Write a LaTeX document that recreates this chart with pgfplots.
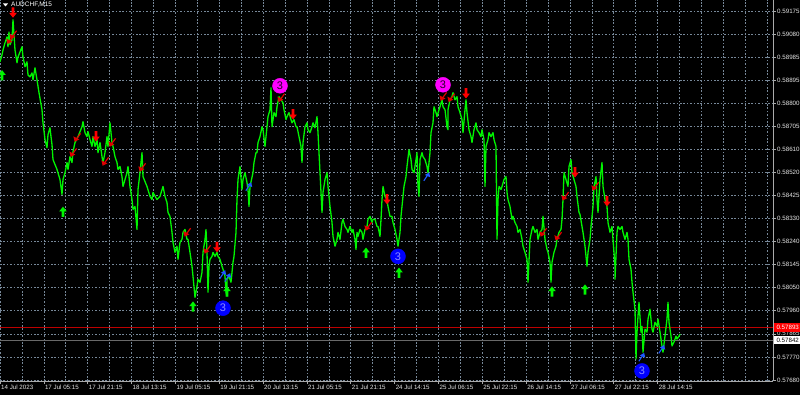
\documentclass[border=0pt]{standalone}
\usepackage{fontspec}
\setmainfont{Liberation Sans}
\usepackage{pgfplots}
\pgfplotsset{compat=1.18}
\usepackage{pgfplotstable}
\definecolor{lime}{RGB}{0,245,0}
\definecolor{gridc}{RGB}{119,136,153}
\definecolor{framec}{RGB}{170,170,170}
\definecolor{mtred}{RGB}{255,0,0}
\definecolor{dred}{RGB}{225,0,0}
\definecolor{askred}{RGB}{190,0,0}
\definecolor{bidgray}{RGB}{105,105,105}
\definecolor{mtblue}{RGB}{0,0,255}
\definecolor{arrblue}{RGB}{30,90,255}
\definecolor{mag}{RGB}{255,0,255}

\pgfdeclareplotmark{dnarrow}{%
  \pgfpathmoveto{\pgfpoint{-1.3pt}{5.5pt}}%
  \pgfpathlineto{\pgfpoint{1.3pt}{5.5pt}}%
  \pgfpathlineto{\pgfpoint{1.3pt}{0pt}}%
  \pgfpathlineto{\pgfpoint{3.8pt}{0pt}}%
  \pgfpathlineto{\pgfpoint{0pt}{-4.8pt}}%
  \pgfpathlineto{\pgfpoint{-3.8pt}{0pt}}%
  \pgfpathlineto{\pgfpoint{-1.3pt}{0pt}}%
  \pgfpathclose\pgfusepathqfill}
\pgfdeclareplotmark{uparrow}{%
  \pgfpathmoveto{\pgfpoint{-1.3pt}{-5.5pt}}%
  \pgfpathlineto{\pgfpoint{1.3pt}{-5.5pt}}%
  \pgfpathlineto{\pgfpoint{1.3pt}{0pt}}%
  \pgfpathlineto{\pgfpoint{3.8pt}{0pt}}%
  \pgfpathlineto{\pgfpoint{0pt}{4.8pt}}%
  \pgfpathlineto{\pgfpoint{-3.8pt}{0pt}}%
  \pgfpathlineto{\pgfpoint{-1.3pt}{0pt}}%
  \pgfpathclose\pgfusepathqfill}
\pgfdeclareplotmark{smalldn}{%
  \pgfsetlinewidth{1.2pt}%
  \pgfpathmoveto{\pgfpoint{3.6pt}{4.2pt}}\pgfpathlineto{\pgfpoint{-0.8pt}{-1.8pt}}\pgfusepathqstroke
  \pgfpathmoveto{\pgfpoint{-2.4pt}{-4.2pt}}\pgfpathlineto{\pgfpoint{2.4pt}{-1.8pt}}\pgfpathlineto{\pgfpoint{-3.6pt}{1.2pt}}\pgfpathclose\pgfusepathqfill}
\pgfdeclareplotmark{smallup}{%
  \pgfsetlinewidth{1.1pt}%
  \pgfpathmoveto{\pgfpoint{-3.2pt}{-4.2pt}}\pgfpathlineto{\pgfpoint{0.8pt}{1.8pt}}\pgfusepathqstroke
  \pgfpathmoveto{\pgfpoint{2.2pt}{4.2pt}}\pgfpathlineto{\pgfpoint{-2.2pt}{1.6pt}}\pgfpathlineto{\pgfpoint{3.2pt}{-0.6pt}}\pgfpathclose\pgfusepathqfill}

\pgfplotstableread{
x price
0 0.58969
2 0.58997
3 0.59017
5 0.59046
7 0.59070
8 0.59030
9 0.59090
10 0.59038
12 0.59058
13 0.59139
14 0.59078
15 0.59017
17 0.58965
18 0.58989
20 0.59009
22 0.59030
23 0.58989
25 0.58949
27 0.58969
28 0.58916
30 0.58908
32 0.58924
33 0.58896
35 0.58945
37 0.58896
39 0.58844
42 0.58775
43 0.58722
45 0.58654
47 0.58621
48 0.58674
50 0.58702
51 0.58666
52 0.58634
53 0.58573
57 0.58533
60 0.58492
62 0.58432
63 0.58492
65 0.58520
67 0.58561
68 0.58533
70 0.58585
72 0.58561
73 0.58605
75 0.58642
78 0.58666
82 0.58706
83 0.58727
85 0.58682
87 0.58666
88 0.58686
90 0.58654
92 0.58626
93 0.58666
95 0.58626
97 0.58654
98 0.58601
100 0.58642
102 0.58585
103 0.58561
105 0.58601
107 0.58666
108 0.58626
110 0.58722
112 0.58642
113 0.58626
115 0.58585
117 0.58561
118 0.58533
120 0.58545
122 0.58504
123 0.58464
125 0.58492
127 0.58520
128 0.58545
130 0.58464
132 0.58411
133 0.58371
135 0.58383
137 0.58290
138 0.58452
140 0.58520
142 0.58601
143 0.58504
147 0.58464
150 0.58424
152 0.58411
153 0.58440
157 0.58411
160 0.58424
163 0.58464
165 0.58424
167 0.58399
168 0.58359
170 0.58343
172 0.58278
173 0.58238
175 0.58197
177 0.58222
178 0.58169
180 0.58238
182 0.58250
183 0.58278
185 0.58290
187 0.58250
188 0.58250
190 0.58197
192 0.58141
193 0.58100
195 0.58015
197 0.58060
198 0.58088
200 0.58076
202 0.58116
203 0.58197
205 0.58250
206 0.58290
207 0.58197
208 0.58036
209 0.58141
210 0.58169
212 0.58181
213 0.58197
215 0.58181
217 0.58197
218 0.58181
220 0.58169
222 0.58141
223 0.58129
225 0.58100
226 0.58036
227 0.58020
227 0.58088
229 0.58100
231 0.58076
233 0.58157
234 0.58181
236 0.58278
237 0.58411
238 0.58492
240 0.58545
242 0.58452
243 0.58492
245 0.58520
247 0.58480
248 0.58452
249 0.58383
250 0.58464
253 0.58520
254 0.58561
256 0.58601
257 0.58601
258 0.58642
260 0.58666
262 0.58706
263 0.58694
265 0.58626
267 0.58706
268 0.58747
270 0.58775
271 0.58864
272 0.58706
274 0.58763
276 0.58747
277 0.58787
279 0.58828
281 0.58815
283 0.58803
284 0.58775
286 0.58735
287 0.58747
289 0.58763
291 0.58735
292 0.58722
294 0.58735
296 0.58706
297 0.58706
299 0.58666
301 0.58626
302 0.58561
303 0.58642
305 0.58706
307 0.58722
308 0.58694
310 0.58682
312 0.58706
313 0.58722
315 0.58702
317 0.58747
318 0.58682
319 0.58601
321 0.58440
322 0.58359
323 0.58440
325 0.58492
327 0.58520
328 0.58464
330 0.58383
332 0.58318
333 0.58262
335 0.58222
337 0.58250
338 0.58278
340 0.58250
342 0.58318
343 0.58331
345 0.58302
347 0.58290
348 0.58278
350 0.58302
352 0.58278
353 0.58290
355 0.58250
356 0.58209
357 0.58278
358 0.58262
360 0.58290
362 0.58278
363 0.58250
365 0.58290
367 0.58302
368 0.58331
370 0.58343
372 0.58318
373 0.58331
375 0.58331
377 0.58302
378 0.58302
380 0.58262
381 0.58331
382 0.58411
383 0.58464
385 0.58424
387 0.58411
388 0.58383
390 0.58343
392 0.58343
393 0.58318
395 0.58290
397 0.58250
398 0.58222
400 0.58278
401 0.58343
403 0.58424
404 0.58464
406 0.58504
407 0.58545
409 0.58613
411 0.58573
412 0.58533
414 0.58520
416 0.58573
417 0.58601
418 0.58464
419 0.58424
420 0.58573
422 0.58601
423 0.58585
425 0.58573
427 0.58545
428 0.58520
430 0.58601
431 0.58682
433 0.58722
434 0.58787
436 0.58763
437 0.58747
439 0.58775
440 0.58787
442 0.58815
443 0.58787
445 0.58775
447 0.58706
448 0.58694
448 0.58775
450 0.58815
452 0.58828
453 0.58844
455 0.58815
457 0.58828
458 0.58787
460 0.58763
462 0.58735
463 0.58682
465 0.58775
466 0.58815
467 0.58763
469 0.58694
471 0.58666
472 0.58642
474 0.58694
476 0.58722
477 0.58694
479 0.58682
481 0.58666
482 0.58694
484 0.58654
485 0.58464
486 0.58626
488 0.58654
489 0.58682
491 0.58666
493 0.58682
494 0.58654
496 0.58626
497 0.58250
498 0.58411
499 0.58464
501 0.58452
502 0.58464
504 0.58492
506 0.58504
507 0.58440
508 0.58411
510 0.58383
512 0.58331
513 0.58343
515 0.58318
517 0.58302
518 0.58278
520 0.58290
522 0.58250
523 0.58222
525 0.58197
527 0.58169
528 0.58076
530 0.58250
532 0.58290
533 0.58302
535 0.58278
537 0.58290
538 0.58250
540 0.58278
542 0.58290
543 0.58343
545 0.58250
547 0.58209
548 0.58197
550 0.58157
551 0.58076
552 0.58157
554 0.58197
556 0.58222
557 0.58250
559 0.58278
561 0.58290
562 0.58331
563 0.58411
564 0.58520
566 0.58492
568 0.58464
569 0.58545
571 0.58573
572 0.58520
574 0.58492
576 0.58464
577 0.58424
579 0.58359
580 0.58351
582 0.58302
583 0.58278
585 0.58222
587 0.58141
588 0.58197
590 0.58250
591 0.58302
593 0.58383
594 0.58464
596 0.58504
597 0.58411
598 0.58359
600 0.58492
602 0.58561
603 0.58464
605 0.58411
607 0.58383
608 0.58318
610 0.58278
612 0.58302
613 0.58250
615 0.58141
615 0.58088
617 0.58278
618 0.58302
620 0.58290
622 0.58302
623 0.58278
625 0.58250
627 0.58278
628 0.58250
629 0.58169
631 0.58129
632 0.58076
633 0.58036
635 0.57967
636 0.57765
637 0.57874
638 0.57939
639 0.57995
641 0.57874
642 0.57898
643 0.57793
645 0.57886
647 0.57874
648 0.57927
650 0.57967
652 0.57886
653 0.57874
655 0.57914
657 0.57898
658 0.57927
660 0.57874
662 0.57818
663 0.57793
665 0.57858
667 0.57927
668 0.57995
669 0.57914
671 0.57858
672 0.57818
674 0.57834
676 0.57858
677 0.57846
679 0.57858
680 0.57866
}\pricetable

\pgfplotstableread{
x price
13 0.59167
96 0.58666
217 0.58217
293 0.58755
387 0.58411
466 0.58840
575 0.58520
607 0.58403
}\reddown

\pgfplotstableread{
x price
10 0.59058
13 0.59078
77 0.58662
73 0.58601
105 0.58565
112 0.58642
142 0.58541
187 0.58278
207 0.58209
281 0.58823
368 0.58302
443 0.58828
451 0.58823
543 0.58278
558 0.58262
565 0.58424
595 0.58464
}\redsmall

\pgfplotstableread{
x price
2 0.58916
63 0.58363
193 0.57979
227 0.58040
366 0.58197
399 0.58116
552 0.58040
585 0.58048
}\greenup

\pgfplotstableread{
x price
223 0.58108
228 0.58096
249 0.58464
427 0.58504
642 0.57773
662 0.57805
}\blueup

\pgfplotstableread{
x price
280 0.58872
443 0.58876
}\magcircle

\pgfplotstableread{
x price
223 0.57971
398 0.58181
642 0.57717
}\bluecircle

\begin{document}
\begin{tikzpicture}
\fill[black] (0pt,0pt) rectangle (800pt,-395pt);
\begin{axis}[
  at={(0pt,0pt)}, anchor=north west,
  scale only axis, width=773pt, height=381pt,
  xmin=0, xmax=773, ymin=0.576761, ymax=0.592194,
  axis x line*=bottom, axis y line*=right,
  axis line style={framec, line width=0.8pt},
  xtick={0,43.84,87.68,131.52,175.36,219.2,263.04,306.88,350.72,394.56,438.4,482.24,526.08,569.92,613.76,657.6},
  xticklabels={14 Jul 2023,17 Jul 05:15,17 Jul 21:15,18 Jul 13:15,19 Jul 05:15,19 Jul 21:15,20 Jul 13:15,21 Jul 05:15,21 Jul 21:15,24 Jul 14:15,25 Jul 06:15,25 Jul 22:15,26 Jul 14:15,27 Jul 06:15,27 Jul 22:15,28 Jul 14:15},
  minor xtick={21.92,65.76,109.6,153.44,197.28,241.12,284.96,328.8,372.64,416.48,460.32,504.16,548,591.84,635.68,679.52,701.44,723.36,745.28,767.2},
  ytick={0.59175,0.590816,0.589882,0.588947,0.588013,0.587079,0.586145,0.58521,0.584276,0.583342,0.582408,0.581474,0.580539,0.579605,0.578671,0.577737,0.576802},
  yticklabels={0.59175,0.59080,0.58985,0.58895,0.58800,0.58705,0.58610,0.58520,0.58425,0.58330,0.58240,0.58145,0.58050,0.57960,0.57865,0.57770,0.57680},
  tick align=outside, major tick length=3pt, minor tick length=0pt,
  tick style={framec, line width=0.6pt},
  xmajorgrids, xminorgrids, ymajorgrids,
  grid style={gridc, dash pattern=on 1.6pt off 1.8pt, line width=0.6pt},
  minor grid style={gridc, dash pattern=on 1.6pt off 1.8pt, line width=0.6pt},
  ticklabel style={font=\fontsize{6.2}{7}\selectfont, text=white!90!black},
  xticklabel style={anchor=north west, inner sep=0pt, xshift=1pt, yshift=-1pt},
  yticklabel style={anchor=west, inner sep=0pt, xshift=1pt},
  clip mode=individual,
]
\addplot[askred, line width=0.7pt, forget plot] coordinates {(0,0.57893) (773,0.57893)};
\addplot[bidgray, line width=1pt, forget plot] coordinates {(0,0.57842) (773,0.57842)};
\addplot[lime, line width=1.3pt, line join=round, no markers] table[x=x, y=price] {\pricetable};
\addplot[only marks, mark=smalldn, color=dred] table[x=x, y=price] {\redsmall};
\addplot[only marks, mark=dnarrow, color=mtred] table[x=x, y=price] {\reddown};
\addplot[only marks, mark=uparrow, color=lime] table[x=x, y=price] {\greenup};
\addplot[only marks, mark=smallup, color=arrblue] table[x=x, y=price] {\blueup};
\addplot[only marks, mark=*, mark size=7.5pt, mark options={fill=mag, draw=mag},
  nodes near coords={3}, nodes near coords align=center,
  every node near coord/.append style={font=\fontsize{11}{11}\selectfont, text=black!85!mag, anchor=center}]
  table[x=x, y=price] {\magcircle};
\addplot[only marks, mark=*, mark size=7.5pt, mark options={fill=mtblue, draw=mtblue},
  nodes near coords={3}, nodes near coords align=center,
  every node near coord/.append style={font=\fontsize{11}{11}\selectfont, text=white!55!mtblue, anchor=center}]
  table[x=x, y=price] {\bluecircle};
\node[anchor=west, fill=mtred, text=white, inner sep=1pt, font=\fontsize{6.2}{7}\selectfont, minimum width=27pt, minimum height=8.5pt] at (axis cs:774,0.57893) {0.57893};
\node[anchor=west, fill=white, text=black, inner sep=1pt, font=\fontsize{6.2}{7}\selectfont, minimum width=27pt, minimum height=8.5pt] at (axis cs:774,0.57842) {0.57842};
\node[anchor=west, text=white, inner sep=0pt, font=\fontsize{6.5}{7}\selectfont] at (axis cs:11,0.59199) {AUDCHF,M15};
\end{axis}
\fill[white] (3pt,-3.5pt) -- (8pt,-3.5pt) -- (5.5pt,-6.5pt) -- cycle;
\pgfresetboundingbox
\path[use as bounding box] (0pt,0pt) rectangle (800pt,-395pt);
\end{tikzpicture}
\end{document}
